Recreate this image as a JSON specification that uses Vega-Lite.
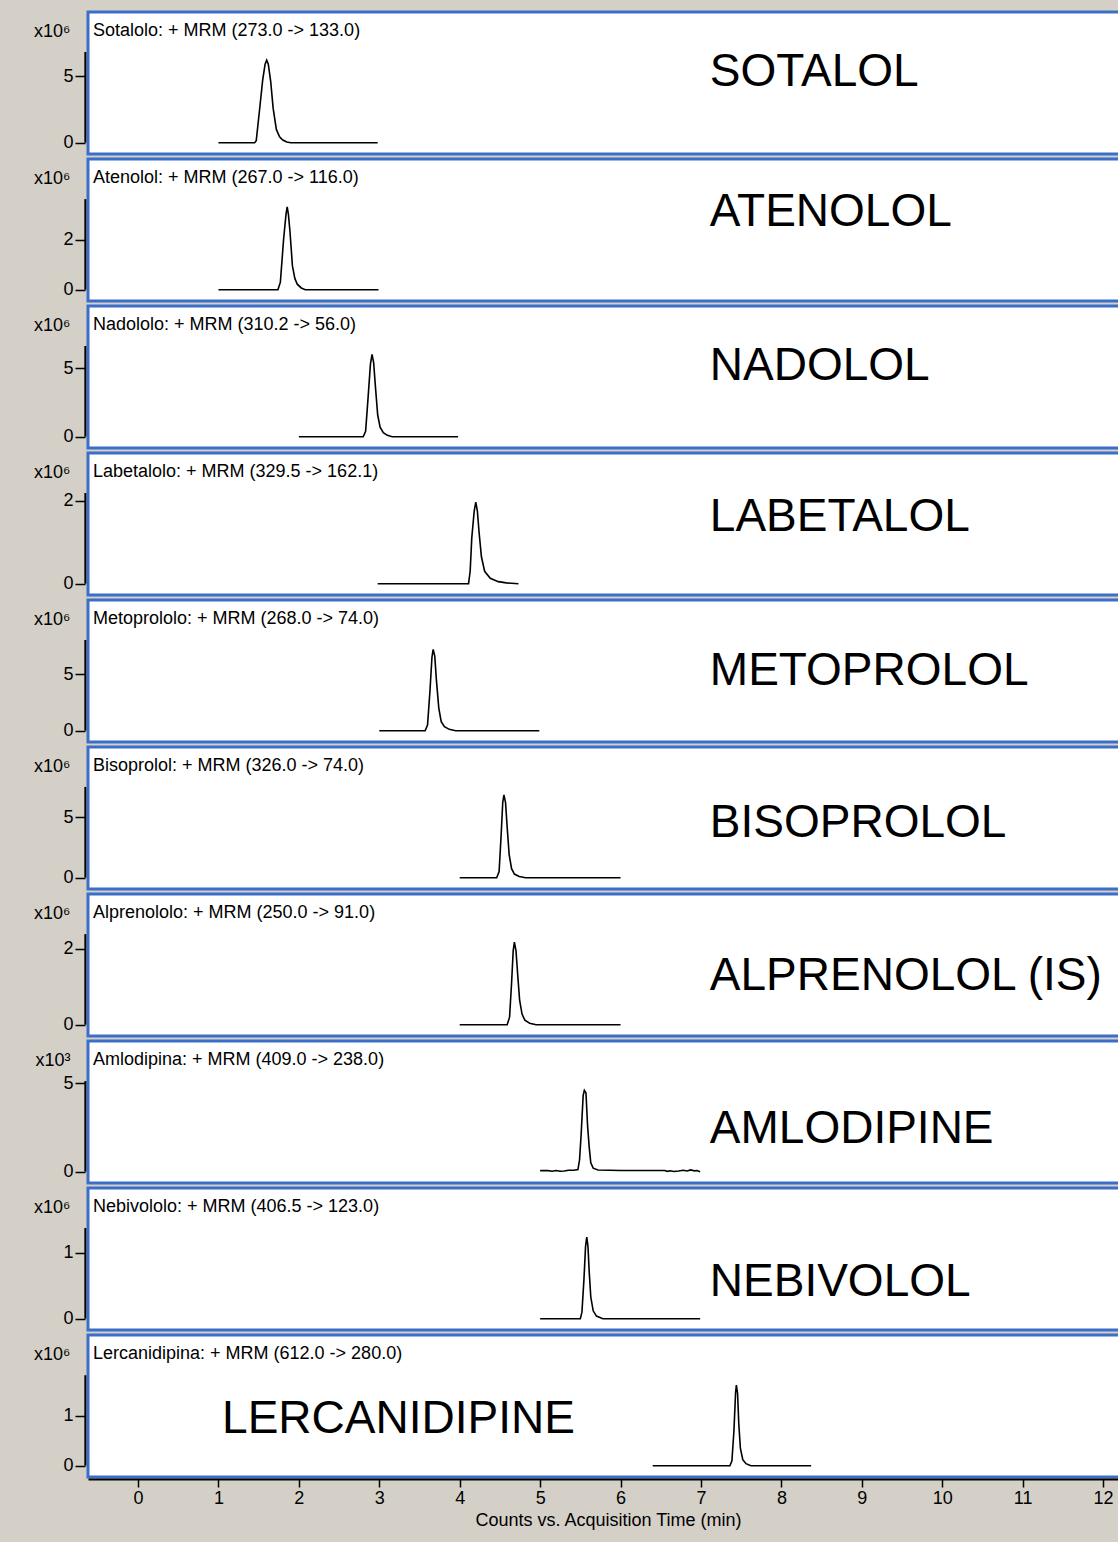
{
  "$schema": "https://vega.github.io/schema/vega-lite/v6.json",
  "background": "#d4d0c8",
  "padding": {"left": 32, "top": 10, "right": 0, "bottom": 14},
  "spacing": 1,
  "config": {
    "font": "Liberation Sans",
    "view": {"fill": "white", "stroke": "#3a6ec8", "strokeWidth": 3},
    "axisY": {"domain": false, "tickSize": 10, "tickColor": "black", "tickWidth": 1.5, "labelFontSize": 18, "labelColor": "black", "labelPadding": 2, "offset": 3, "grid": false, "format": "d", "titleAngle": 0, "titleAlign": "right", "titleBaseline": "middle", "titleX": -15, "titleY": 19, "titleFontSize": 18, "titleFontWeight": "normal", "titleColor": "black"},
    "axisX": {"domainColor": "black", "domainWidth": 2, "tickColor": "black", "tickSize": 8, "tickWidth": 1.5, "labelFontSize": 18, "labelColor": "black", "labelPadding": 2, "offset": 2, "grid": false, "format": "d", "titleFontSize": 18, "titleFontWeight": "normal", "titleColor": "black", "titlePadding": 4},
    "line": {"color": "black", "strokeWidth": 1.6},
    "text": {"color": "black", "align": "left", "baseline": "middle"},
    "rule": {"color": "black", "strokeWidth": 2}
  },
  "datasets": {
    "panels": [
      {"id": "SOT", "header": "Sotalolo: + MRM (273.0 -> 133.0)", "label": "SOTALOL"},
      {"id": "ATE", "header": "Atenolol: + MRM (267.0 -> 116.0)", "label": "ATENOLOL"},
      {"id": "NAD", "header": "Nadololo: + MRM (310.2 -> 56.0)", "label": "NADOLOL"},
      {"id": "LAB", "header": "Labetalolo: + MRM (329.5 -> 162.1)", "label": "LABETALOL"},
      {"id": "MET", "header": "Metoprololo: + MRM (268.0 -> 74.0)", "label": "METOPROLOL"},
      {"id": "BIS", "header": "Bisoprolol: + MRM (326.0 -> 74.0)", "label": "BISOPROLOL"},
      {"id": "ALP", "header": "Alprenololo: + MRM (250.0 -> 91.0)", "label": "ALPRENOLOL (IS)"},
      {"id": "AML", "header": "Amlodipina: + MRM (409.0 -> 238.0)", "label": "AMLODIPINE"},
      {"id": "NEB", "header": "Nebivololo: + MRM (406.5 -> 123.0)", "label": "NEBIVOLOL"},
      {"id": "LER", "header": "Lercanidipina: + MRM (612.0 -> 280.0)", "label": "LERCANIDIPINE"}
    ],
    "trace": [
      {"id": "SOT", "t": 1.00, "v": 0}, {"id": "SOT", "t": 1.45, "v": 0}, {"id": "SOT", "t": 1.47, "v": 0.15}, {"id": "SOT", "t": 1.51, "v": 2.4}, {"id": "SOT", "t": 1.55, "v": 4.7}, {"id": "SOT", "t": 1.58, "v": 5.9}, {"id": "SOT", "t": 1.60, "v": 6.2}, {"id": "SOT", "t": 1.62, "v": 5.9}, {"id": "SOT", "t": 1.65, "v": 4.6}, {"id": "SOT", "t": 1.68, "v": 2.6}, {"id": "SOT", "t": 1.72, "v": 1.0}, {"id": "SOT", "t": 1.76, "v": 0.45}, {"id": "SOT", "t": 1.80, "v": 0.2}, {"id": "SOT", "t": 1.85, "v": 0.05}, {"id": "SOT", "t": 1.90, "v": 0}, {"id": "SOT", "t": 2.98, "v": 0},
      {"id": "ATE", "t": 1.00, "v": 0}, {"id": "ATE", "t": 1.74, "v": 0}, {"id": "ATE", "t": 1.77, "v": 0.3}, {"id": "ATE", "t": 1.81, "v": 2.0}, {"id": "ATE", "t": 1.84, "v": 3.0}, {"id": "ATE", "t": 1.855, "v": 3.3}, {"id": "ATE", "t": 1.87, "v": 3.0}, {"id": "ATE", "t": 1.89, "v": 2.3}, {"id": "ATE", "t": 1.92, "v": 0.95}, {"id": "ATE", "t": 1.95, "v": 0.45}, {"id": "ATE", "t": 1.98, "v": 0.22}, {"id": "ATE", "t": 2.03, "v": 0.07}, {"id": "ATE", "t": 2.08, "v": 0}, {"id": "ATE", "t": 2.99, "v": 0},
      {"id": "NAD", "t": 2.00, "v": 0}, {"id": "NAD", "t": 2.80, "v": 0}, {"id": "NAD", "t": 2.83, "v": 0.4}, {"id": "NAD", "t": 2.86, "v": 2.8}, {"id": "NAD", "t": 2.89, "v": 5.3}, {"id": "NAD", "t": 2.91, "v": 6.0}, {"id": "NAD", "t": 2.93, "v": 5.4}, {"id": "NAD", "t": 2.95, "v": 3.8}, {"id": "NAD", "t": 2.98, "v": 1.6}, {"id": "NAD", "t": 3.01, "v": 0.7}, {"id": "NAD", "t": 3.05, "v": 0.3}, {"id": "NAD", "t": 3.10, "v": 0.1}, {"id": "NAD", "t": 3.16, "v": 0}, {"id": "NAD", "t": 3.98, "v": 0},
      {"id": "LAB", "t": 2.98, "v": 0}, {"id": "LAB", "t": 4.11, "v": 0}, {"id": "LAB", "t": 4.13, "v": 0.3}, {"id": "LAB", "t": 4.15, "v": 1.1}, {"id": "LAB", "t": 4.18, "v": 1.75}, {"id": "LAB", "t": 4.20, "v": 1.97}, {"id": "LAB", "t": 4.22, "v": 1.75}, {"id": "LAB", "t": 4.24, "v": 1.26}, {"id": "LAB", "t": 4.27, "v": 0.65}, {"id": "LAB", "t": 4.31, "v": 0.3}, {"id": "LAB", "t": 4.38, "v": 0.13}, {"id": "LAB", "t": 4.48, "v": 0.05}, {"id": "LAB", "t": 4.58, "v": 0.02}, {"id": "LAB", "t": 4.73, "v": 0},
      {"id": "MET", "t": 3.00, "v": 0}, {"id": "MET", "t": 3.57, "v": 0}, {"id": "MET", "t": 3.60, "v": 0.5}, {"id": "MET", "t": 3.63, "v": 3.5}, {"id": "MET", "t": 3.655, "v": 6.5}, {"id": "MET", "t": 3.67, "v": 7.2}, {"id": "MET", "t": 3.69, "v": 6.6}, {"id": "MET", "t": 3.71, "v": 4.5}, {"id": "MET", "t": 3.74, "v": 2.0}, {"id": "MET", "t": 3.77, "v": 0.8}, {"id": "MET", "t": 3.81, "v": 0.35}, {"id": "MET", "t": 3.87, "v": 0.12}, {"id": "MET", "t": 3.95, "v": 0}, {"id": "MET", "t": 4.99, "v": 0},
      {"id": "BIS", "t": 4.00, "v": 0}, {"id": "BIS", "t": 4.46, "v": 0}, {"id": "BIS", "t": 4.49, "v": 0.5}, {"id": "BIS", "t": 4.515, "v": 3.5}, {"id": "BIS", "t": 4.535, "v": 6.2}, {"id": "BIS", "t": 4.55, "v": 6.85}, {"id": "BIS", "t": 4.57, "v": 6.2}, {"id": "BIS", "t": 4.59, "v": 4.2}, {"id": "BIS", "t": 4.615, "v": 1.9}, {"id": "BIS", "t": 4.645, "v": 0.75}, {"id": "BIS", "t": 4.68, "v": 0.3}, {"id": "BIS", "t": 4.74, "v": 0.1}, {"id": "BIS", "t": 4.82, "v": 0}, {"id": "BIS", "t": 6.00, "v": 0},
      {"id": "ALP", "t": 4.00, "v": 0}, {"id": "ALP", "t": 4.59, "v": 0}, {"id": "ALP", "t": 4.62, "v": 0.2}, {"id": "ALP", "t": 4.645, "v": 1.1}, {"id": "ALP", "t": 4.665, "v": 1.95}, {"id": "ALP", "t": 4.68, "v": 2.18}, {"id": "ALP", "t": 4.70, "v": 1.95}, {"id": "ALP", "t": 4.72, "v": 1.35}, {"id": "ALP", "t": 4.745, "v": 0.65}, {"id": "ALP", "t": 4.775, "v": 0.28}, {"id": "ALP", "t": 4.81, "v": 0.12}, {"id": "ALP", "t": 4.87, "v": 0.04}, {"id": "ALP", "t": 4.95, "v": 0}, {"id": "ALP", "t": 6.00, "v": 0},
      {"id": "AML", "t": 5.00, "v": 0.06}, {"id": "AML", "t": 5.10, "v": 0.06}, {"id": "AML", "t": 5.15, "v": 0.03}, {"id": "AML", "t": 5.20, "v": 0.07}, {"id": "AML", "t": 5.25, "v": 0.03}, {"id": "AML", "t": 5.30, "v": 0.04}, {"id": "AML", "t": 5.35, "v": 0.08}, {"id": "AML", "t": 5.42, "v": 0.08}, {"id": "AML", "t": 5.47, "v": 0.12}, {"id": "AML", "t": 5.49, "v": 0.66}, {"id": "AML", "t": 5.51, "v": 2.1}, {"id": "AML", "t": 5.535, "v": 4.3}, {"id": "AML", "t": 5.55, "v": 4.6}, {"id": "AML", "t": 5.57, "v": 4.45}, {"id": "AML", "t": 5.59, "v": 2.6}, {"id": "AML", "t": 5.61, "v": 1.4}, {"id": "AML", "t": 5.63, "v": 0.5}, {"id": "AML", "t": 5.66, "v": 0.2}, {"id": "AML", "t": 5.72, "v": 0.1}, {"id": "AML", "t": 6.00, "v": 0.07}, {"id": "AML", "t": 6.40, "v": 0.07}, {"id": "AML", "t": 6.55, "v": 0.07}, {"id": "AML", "t": 6.58, "v": 0.02}, {"id": "AML", "t": 6.62, "v": 0.05}, {"id": "AML", "t": 6.66, "v": 0.01}, {"id": "AML", "t": 6.72, "v": 0.04}, {"id": "AML", "t": 6.78, "v": 0.08}, {"id": "AML", "t": 6.83, "v": 0.04}, {"id": "AML", "t": 6.87, "v": 0.1}, {"id": "AML", "t": 6.92, "v": 0.05}, {"id": "AML", "t": 6.95, "v": 0.07}, {"id": "AML", "t": 6.99, "v": 0.0},
      {"id": "NEB", "t": 5.00, "v": 0}, {"id": "NEB", "t": 5.50, "v": 0}, {"id": "NEB", "t": 5.52, "v": 0.1}, {"id": "NEB", "t": 5.545, "v": 0.6}, {"id": "NEB", "t": 5.565, "v": 1.1}, {"id": "NEB", "t": 5.58, "v": 1.24}, {"id": "NEB", "t": 5.595, "v": 1.1}, {"id": "NEB", "t": 5.61, "v": 0.72}, {"id": "NEB", "t": 5.63, "v": 0.33}, {"id": "NEB", "t": 5.66, "v": 0.12}, {"id": "NEB", "t": 5.70, "v": 0.04}, {"id": "NEB", "t": 5.78, "v": 0}, {"id": "NEB", "t": 6.99, "v": 0},
      {"id": "LER", "t": 6.40, "v": 0}, {"id": "LER", "t": 7.36, "v": 0}, {"id": "LER", "t": 7.385, "v": 0.1}, {"id": "LER", "t": 7.41, "v": 0.7}, {"id": "LER", "t": 7.43, "v": 1.45}, {"id": "LER", "t": 7.44, "v": 1.61}, {"id": "LER", "t": 7.455, "v": 1.45}, {"id": "LER", "t": 7.47, "v": 0.85}, {"id": "LER", "t": 7.49, "v": 0.35}, {"id": "LER", "t": 7.52, "v": 0.12}, {"id": "LER", "t": 7.56, "v": 0.04}, {"id": "LER", "t": 7.62, "v": 0}, {"id": "LER", "t": 8.37, "v": 0}
    ]
  },
  "vconcat": [
    {"width": 1040, "height": 142, "layer": [
      {"data": {"name": "trace"}, "transform": [{"filter": "datum.id === 'SOT'"}], "mark": "line",
       "encoding": {"x": {"field": "t", "type": "quantitative", "scale": {"domain": [-0.622, 12.31], "nice": false, "zero": false}, "axis": null},
                    "y": {"field": "v", "type": "quantitative", "scale": {"domain": [-0.85, 9.83], "nice": false, "zero": false}, "axis": {"values": [0, 5], "title": "x10⁶"}}}},
      {"data": {"name": "panels"}, "transform": [{"filter": "datum.id === 'SOT'"}], "mark": {"type": "text", "fontSize": 18}, "encoding": {"x": {"datum": -0.56}, "y": {"datum": 8.4}, "text": {"field": "header"}}},
      {"data": {"name": "panels"}, "transform": [{"filter": "datum.id === 'SOT'"}], "mark": {"type": "text", "fontSize": 46}, "encoding": {"x": {"datum": 7.11}, "y": {"datum": 5.3}, "text": {"field": "label"}}},
      {"data": {"name": "panels"}, "transform": [{"filter": "datum.id === 'SOT'"}], "mark": "rule", "encoding": {"x": {"datum": -0.655}, "y": {"datum": 0}, "y2": {"datum": 6.82}}}
    ]},
    {"width": 1040, "height": 142, "layer": [
      {"data": {"name": "trace"}, "transform": [{"filter": "datum.id === 'ATE'"}], "mark": "line",
       "encoding": {"x": {"field": "t", "type": "quantitative", "scale": {"domain": [-0.622, 12.31], "nice": false, "zero": false}, "axis": null},
                    "y": {"field": "v", "type": "quantitative", "scale": {"domain": [-0.45, 5.21], "nice": false, "zero": false}, "axis": {"values": [0, 2], "title": "x10⁶"}}}},
      {"data": {"name": "panels"}, "transform": [{"filter": "datum.id === 'ATE'"}], "mark": {"type": "text", "fontSize": 18}, "encoding": {"x": {"datum": -0.56}, "y": {"datum": 4.45}, "text": {"field": "header"}}},
      {"data": {"name": "panels"}, "transform": [{"filter": "datum.id === 'ATE'"}], "mark": {"type": "text", "fontSize": 46}, "encoding": {"x": {"datum": 7.11}, "y": {"datum": 3.1}, "text": {"field": "label"}}},
      {"data": {"name": "panels"}, "transform": [{"filter": "datum.id === 'ATE'"}], "mark": "rule", "encoding": {"x": {"datum": -0.655}, "y": {"datum": 0}, "y2": {"datum": 3.61}}}
    ]},
    {"width": 1040, "height": 142, "layer": [
      {"data": {"name": "trace"}, "transform": [{"filter": "datum.id === 'NAD'"}], "mark": "line",
       "encoding": {"x": {"field": "t", "type": "quantitative", "scale": {"domain": [-0.622, 12.31], "nice": false, "zero": false}, "axis": null},
                    "y": {"field": "v", "type": "quantitative", "scale": {"domain": [-0.825, 9.54], "nice": false, "zero": false}, "axis": {"values": [0, 5], "title": "x10⁶"}}}},
      {"data": {"name": "panels"}, "transform": [{"filter": "datum.id === 'NAD'"}], "mark": {"type": "text", "fontSize": 18}, "encoding": {"x": {"datum": -0.56}, "y": {"datum": 8.15}, "text": {"field": "header"}}},
      {"data": {"name": "panels"}, "transform": [{"filter": "datum.id === 'NAD'"}], "mark": {"type": "text", "fontSize": 46}, "encoding": {"x": {"datum": 7.11}, "y": {"datum": 5.16}, "text": {"field": "label"}}},
      {"data": {"name": "panels"}, "transform": [{"filter": "datum.id === 'NAD'"}], "mark": "rule", "encoding": {"x": {"datum": -0.655}, "y": {"datum": 0}, "y2": {"datum": 6.62}}}
    ]},
    {"width": 1040, "height": 142, "layer": [
      {"data": {"name": "trace"}, "transform": [{"filter": "datum.id === 'LAB'"}], "mark": "line",
       "encoding": {"x": {"field": "t", "type": "quantitative", "scale": {"domain": [-0.622, 12.31], "nice": false, "zero": false}, "axis": null},
                    "y": {"field": "v", "type": "quantitative", "scale": {"domain": [-0.273, 3.157], "nice": false, "zero": false}, "axis": {"values": [0, 2], "title": "x10⁶"}}}},
      {"data": {"name": "panels"}, "transform": [{"filter": "datum.id === 'LAB'"}], "mark": {"type": "text", "fontSize": 18}, "encoding": {"x": {"datum": -0.56}, "y": {"datum": 2.70}, "text": {"field": "header"}}},
      {"data": {"name": "panels"}, "transform": [{"filter": "datum.id === 'LAB'"}], "mark": {"type": "text", "fontSize": 46}, "encoding": {"x": {"datum": 7.11}, "y": {"datum": 1.61}, "text": {"field": "label"}}},
      {"data": {"name": "panels"}, "transform": [{"filter": "datum.id === 'LAB'"}], "mark": "rule", "encoding": {"x": {"datum": -0.655}, "y": {"datum": 0}, "y2": {"datum": 2.19}}}
    ]},
    {"width": 1040, "height": 142, "layer": [
      {"data": {"name": "trace"}, "transform": [{"filter": "datum.id === 'MET'"}], "mark": "line",
       "encoding": {"x": {"field": "t", "type": "quantitative", "scale": {"domain": [-0.622, 12.31], "nice": false, "zero": false}, "axis": null},
                    "y": {"field": "v", "type": "quantitative", "scale": {"domain": [-1.0, 11.57], "nice": false, "zero": false}, "axis": {"values": [0, 5], "title": "x10⁶"}}}},
      {"data": {"name": "panels"}, "transform": [{"filter": "datum.id === 'MET'"}], "mark": {"type": "text", "fontSize": 18}, "encoding": {"x": {"datum": -0.56}, "y": {"datum": 9.88}, "text": {"field": "header"}}},
      {"data": {"name": "panels"}, "transform": [{"filter": "datum.id === 'MET'"}], "mark": {"type": "text", "fontSize": 46}, "encoding": {"x": {"datum": 7.11}, "y": {"datum": 5.28}, "text": {"field": "label"}}},
      {"data": {"name": "panels"}, "transform": [{"filter": "datum.id === 'MET'"}], "mark": "rule", "encoding": {"x": {"datum": -0.655}, "y": {"datum": 0}, "y2": {"datum": 8.03}}}
    ]},
    {"width": 1040, "height": 142, "layer": [
      {"data": {"name": "trace"}, "transform": [{"filter": "datum.id === 'BIS'"}], "mark": "line",
       "encoding": {"x": {"field": "t", "type": "quantitative", "scale": {"domain": [-0.622, 12.31], "nice": false, "zero": false}, "axis": null},
                    "y": {"field": "v", "type": "quantitative", "scale": {"domain": [-0.934, 10.8], "nice": false, "zero": false}, "axis": {"values": [0, 5], "title": "x10⁶"}}}},
      {"data": {"name": "panels"}, "transform": [{"filter": "datum.id === 'BIS'"}], "mark": {"type": "text", "fontSize": 18}, "encoding": {"x": {"datum": -0.56}, "y": {"datum": 9.23}, "text": {"field": "header"}}},
      {"data": {"name": "panels"}, "transform": [{"filter": "datum.id === 'BIS'"}], "mark": {"type": "text", "fontSize": 46}, "encoding": {"x": {"datum": 7.11}, "y": {"datum": 4.52}, "text": {"field": "label"}}},
      {"data": {"name": "panels"}, "transform": [{"filter": "datum.id === 'BIS'"}], "mark": "rule", "encoding": {"x": {"datum": -0.655}, "y": {"datum": 0}, "y2": {"datum": 7.5}}}
    ]},
    {"width": 1040, "height": 142, "layer": [
      {"data": {"name": "trace"}, "transform": [{"filter": "datum.id === 'ALP'"}], "mark": "line",
       "encoding": {"x": {"field": "t", "type": "quantitative", "scale": {"domain": [-0.622, 12.31], "nice": false, "zero": false}, "axis": null},
                    "y": {"field": "v", "type": "quantitative", "scale": {"domain": [-0.298, 3.449], "nice": false, "zero": false}, "axis": {"values": [0, 2], "title": "x10⁶"}}}},
      {"data": {"name": "panels"}, "transform": [{"filter": "datum.id === 'ALP'"}], "mark": {"type": "text", "fontSize": 18}, "encoding": {"x": {"datum": -0.56}, "y": {"datum": 2.95}, "text": {"field": "header"}}},
      {"data": {"name": "panels"}, "transform": [{"filter": "datum.id === 'ALP'"}], "mark": {"type": "text", "fontSize": 46}, "encoding": {"x": {"datum": 7.11}, "y": {"datum": 1.28}, "text": {"field": "label"}}},
      {"data": {"name": "panels"}, "transform": [{"filter": "datum.id === 'ALP'"}], "mark": "rule", "encoding": {"x": {"datum": -0.655}, "y": {"datum": 0}, "y2": {"datum": 2.39}}}
    ]},
    {"width": 1040, "height": 142, "layer": [
      {"data": {"name": "trace"}, "transform": [{"filter": "datum.id === 'AML'"}], "mark": "line",
       "encoding": {"x": {"field": "t", "type": "quantitative", "scale": {"domain": [-0.622, 12.31], "nice": false, "zero": false}, "axis": null},
                    "y": {"field": "v", "type": "quantitative", "scale": {"domain": [-0.638, 7.384], "nice": false, "zero": false}, "axis": {"values": [0, 5], "title": "x10³"}}}},
      {"data": {"name": "panels"}, "transform": [{"filter": "datum.id === 'AML'"}], "mark": {"type": "text", "fontSize": 18}, "encoding": {"x": {"datum": -0.56}, "y": {"datum": 6.31}, "text": {"field": "header"}}},
      {"data": {"name": "panels"}, "transform": [{"filter": "datum.id === 'AML'"}], "mark": {"type": "text", "fontSize": 46}, "encoding": {"x": {"datum": 7.11}, "y": {"datum": 2.41}, "text": {"field": "label"}}},
      {"data": {"name": "panels"}, "transform": [{"filter": "datum.id === 'AML'"}], "mark": "rule", "encoding": {"x": {"datum": -0.655}, "y": {"datum": 0}, "y2": {"datum": 5.12}}}
    ]},
    {"width": 1040, "height": 142, "layer": [
      {"data": {"name": "trace"}, "transform": [{"filter": "datum.id === 'NEB'"}], "mark": "line",
       "encoding": {"x": {"field": "t", "type": "quantitative", "scale": {"domain": [-0.622, 12.31], "nice": false, "zero": false}, "axis": null},
                    "y": {"field": "v", "type": "quantitative", "scale": {"domain": [-0.172, 1.989], "nice": false, "zero": false}, "axis": {"values": [0, 1], "title": "x10⁶"}}}},
      {"data": {"name": "panels"}, "transform": [{"filter": "datum.id === 'NEB'"}], "mark": {"type": "text", "fontSize": 18}, "encoding": {"x": {"datum": -0.56}, "y": {"datum": 1.70}, "text": {"field": "header"}}},
      {"data": {"name": "panels"}, "transform": [{"filter": "datum.id === 'NEB'"}], "mark": {"type": "text", "fontSize": 46}, "encoding": {"x": {"datum": 7.11}, "y": {"datum": 0.56}, "text": {"field": "label"}}},
      {"data": {"name": "panels"}, "transform": [{"filter": "datum.id === 'NEB'"}], "mark": "rule", "encoding": {"x": {"datum": -0.655}, "y": {"datum": 0}, "y2": {"datum": 1.38}}}
    ]},
    {"width": 1040, "height": 142, "layer": [
      {"data": {"name": "trace"}, "transform": [{"filter": "datum.id === 'LER'"}], "mark": "line",
       "encoding": {"x": {"field": "t", "type": "quantitative", "scale": {"domain": [-0.622, 12.31], "nice": false, "zero": false}, "axis": {"values": [0, 1, 2, 3, 4, 5, 6, 7, 8, 9, 10, 11, 12], "title": "Counts vs. Acquisition Time (min)"}},
                    "y": {"field": "v", "type": "quantitative", "scale": {"domain": [-0.226, 2.614], "nice": false, "zero": false}, "axis": {"values": [0, 1], "title": "x10⁶"}}}},
      {"data": {"name": "panels"}, "transform": [{"filter": "datum.id === 'LER'"}], "mark": {"type": "text", "fontSize": 18}, "encoding": {"x": {"datum": -0.56}, "y": {"datum": 2.23}, "text": {"field": "header"}}},
      {"data": {"name": "panels"}, "transform": [{"filter": "datum.id === 'LER'"}], "mark": {"type": "text", "fontSize": 46}, "encoding": {"x": {"datum": 1.045}, "y": {"datum": 0.93}, "text": {"field": "label"}}},
      {"data": {"name": "panels"}, "transform": [{"filter": "datum.id === 'LER'"}], "mark": "rule", "encoding": {"x": {"datum": -0.655}, "y": {"datum": 0}, "y2": {"datum": 1.81}}}
    ]}
  ]
}
